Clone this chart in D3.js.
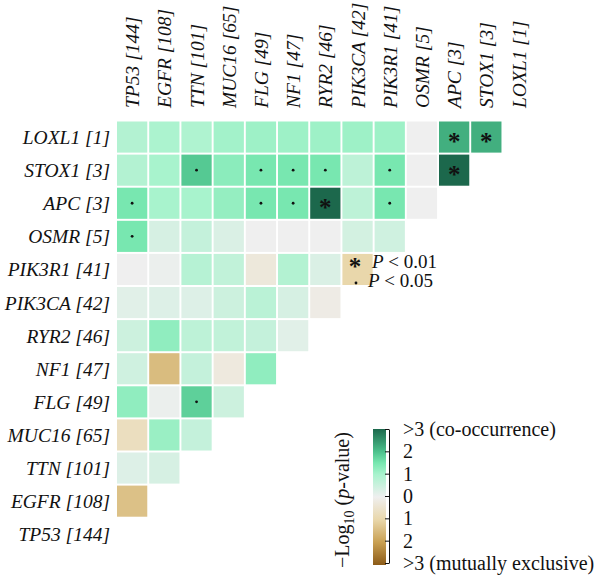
<!DOCTYPE html>
<html>

<head>
  <meta charset="utf8">
  <script src="https://d3js.org/d3.v7.min.js"></script>
  <style>
    body {
      margin: 0;
      background: #fff;
    }

    text {
      font-family: "Liberation Serif", "Times New Roman", serif;
      fill: #111;
    }

    .gene {
      font-style: italic;
      font-size: 19.5px;
    }

    .legend text {
      font-size: 19px;
    }

    .cbar .tick text {
      font-size: 20px;
    }
  </style>
</head>

<body>
  <svg id="chart" width="600" height="576"></svg>

  <script>
    // rows, top to bottom (columns use the reverse order)
    var genes = ['LOXL1', 'STOX1', 'APC', 'OSMR', 'PIK3R1', 'PIK3CA', 'RYR2', 'NF1', 'FLG', 'MUC16', 'TTN', 'EGFR', 'TP53'];
    var counts = [1, 3, 3, 5, 41, 42, 46, 47, 49, 65, 101, 108, 144];

    // signed -log10(p): + co-occurrence, - mutually exclusive
    // each row lists its cells from the TP53 column rightwards
    var values = [
      [0.85, 0.95, 0.9, 1.05, 1.1, 1.1, 1.1, 1.1, 1.1, 0, 2.2, 2.2],
      [0.85, 1.0, 1.9, 1.3, 1.5, 1.5, 1.5, 0.7, 1.5, 0, 3],
      [1.5, 1.0, 1.0, 1.2, 1.5, 1.5, 3, 0.7, 1.5, 0],
      [1.5, 0.35, 0.6, 0.3, 0, 0, 0, 0.4, 0.45],
      [0, 0.05, 0.8, 0.65, -0.3, 0.85, 0.3, -1.0],
      [0.2, 0.25, 0.25, 0.5, 0.75, 0.35, -0.15],
      [0.5, 1.25, 0.7, 0.65, 0.6, 0.2],
      [0.45, -1.5, 0.6, -0.25, 1.25],
      [1.25, 0.05, 1.8, 0.5],
      [-0.7, 1.15, 0.6],
      [0.25, 0.35],
      [-1.4],
      []
    ];

    // '*' p < 0.01, '.' p < 0.05
    var marks = [
      ['', '', '', '', '', '', '', '', '', '', '*', '*'],
      ['', '', '.', '', '.', '.', '.', '', '.', '', '*'],
      ['.', '', '', '', '.', '.', '*', '', '.', ''],
      ['.', '', '', '', '', '', '', '', ''],
      ['', '', '', '', '', '', '', ''],
      ['', '', '', '', '', '', ''],
      ['', '', '', '', '', ''],
      ['', '', '', '', ''],
      ['', '', '.', ''],
      ['', '', ''],
      ['', ''],
      [''],
      []
    ];

    var colorStops = [-3, -2, -1, 0, 1, 1.5, 2, 3];
    var colorRange = ['#8c5b18', '#c9a052', '#e9d7ab', '#efefef', '#a8f3cd', '#78e7b0', '#4cc18c', '#1c684c'];

    var cbarTicks = [3, 2, 1, 0, -1, -2, -3];
    var cbarLabels = ['>3 (co-occurrence)', '2', '1', '0', '1', '2', '>3 (mutually exclusive)'];

    var chart = d3.select('#chart');
    var cols = genes.slice().reverse();
    var colCounts = counts.slice().reverse();

    var x = d3.scaleBand()
      .domain(cols)
      .range([117, 117 + 32.2 * 12.94])
      .paddingInner(0.06);

    var y = d3.scaleBand()
      .domain(genes)
      .range([121.5, 121.5 + 33.1 * 12.94])
      .paddingInner(0.06);

    var color = d3.scaleLinear()
      .domain(colorStops)
      .range(colorRange)
      .clamp(true);

    var cells = [];
    values.forEach(function (row, i) {
      row.forEach(function (v, j) {
        cells.push({ row: genes[i], col: cols[j], value: v, mark: marks[i][j] });
      });
    });

    var grid = chart.append('g');

    grid.selectAll('.cell')
      .data(cells)
      .enter()
      .append('rect')
      .attr('class', 'cell')
      .attr('x', (d) => x(d.col))
      .attr('y', (d) => y(d.row))
      .attr('width', x.bandwidth())
      .attr('height', y.bandwidth())
      .attr('fill', (d) => color(d.value));

    grid.selectAll('.star')
      .data(cells.filter((d) => d.mark === '*'))
      .enter()
      .append('text')
      .attr('class', 'star')
      .attr('x', (d) => x(d.col) + x.bandwidth() / 2)
      .attr('y', (d) => y(d.row) + y.bandwidth() / 2 + 13)
      .attr('text-anchor', 'middle')
      .style('font-size', '25px')
      .style('font-weight', 'bold')
      .text('*');

    grid.selectAll('.dot')
      .data(cells.filter((d) => d.mark === '.'))
      .enter()
      .append('circle')
      .attr('class', 'dot')
      .attr('cx', (d) => x(d.col) + x.bandwidth() / 2)
      .attr('cy', (d) => y(d.row) + y.bandwidth() / 2)
      .attr('r', 1.4)
      .attr('fill', '#111');

    // gene labels
    chart.append('g')
      .selectAll('text')
      .data(cols)
      .enter()
      .append('text')
      .attr('class', 'gene')
      .attr('transform', (d) => 'translate(' + (x(d) + x.bandwidth() / 2 + 7) + ', 108) rotate(-90)')
      .text((d, i) => d + ' [' + colCounts[i] + ']');

    chart.append('g')
      .selectAll('text')
      .data(genes)
      .enter()
      .append('text')
      .attr('class', 'gene')
      .attr('x', 110)
      .attr('y', (d) => y(d) + y.bandwidth() / 2 + 7)
      .attr('text-anchor', 'end')
      .text((d, i) => d + ' [' + counts[i] + ']');

    // significance legend
    var legend = chart.append('g').attr('class', 'legend');
    legend.append('text')
      .attr('x', 355)
      .attr('y', 275)
      .attr('text-anchor', 'middle')
      .style('font-size', '25px')
      .style('font-weight', 'bold')
      .text('*');
    legend.append('circle')
      .attr('cx', 356)
      .attr('cy', 283)
      .attr('r', 1.4)
      .attr('fill', '#111');

    var l1 = legend.append('text').attr('x', 372).attr('y', 268);
    l1.append('tspan').style('font-style', 'italic').text('P');
    l1.append('tspan').text(' < 0.01');
    var l2 = legend.append('text').attr('x', 368).attr('y', 287);
    l2.append('tspan').style('font-style', 'italic').text('P');
    l2.append('tspan').text(' < 0.05');

    // colour bar
    var cy = d3.scaleLinear().domain([-3, 3]).range([563, 429]);

    var grad = chart.append('defs')
      .append('linearGradient')
      .attr('id', 'cbar-grad')
      .attr('x1', 0).attr('y1', 1)
      .attr('x2', 0).attr('y2', 0);

    grad.selectAll('stop')
      .data(colorStops)
      .enter()
      .append('stop')
      .attr('offset', (d) => (d + 3) / 6)
      .attr('stop-color', (d, i) => colorRange[i]);

    chart.append('rect')
      .attr('x', 373)
      .attr('y', cy(3))
      .attr('width', 13)
      .attr('height', cy(-3) - cy(3) + 2)
      .attr('fill', 'url(#cbar-grad)');

    var cbarAxis = chart.append('g')
      .attr('class', 'cbar')
      .attr('transform', 'translate(389, 0)')
      .call(d3.axisRight(cy)
        .tickValues(cbarTicks)
        .tickSizeInner(-4)
        .tickSizeOuter(0)
        .tickPadding(14)
        .tickFormat((d, i) => cbarLabels[i]));

    cbarAxis.select('.domain').attr('stroke', '#111');
    cbarAxis.selectAll('.tick line').attr('stroke', '#111');
    cbarAxis.selectAll('.tick text')
      .attr('fill', '#111')
      .style('font-family', '"Liberation Serif", serif');

    var title = chart.append('text')
      .attr('transform', 'translate(349, 500) rotate(-90)')
      .attr('text-anchor', 'middle')
      .style('font-size', '20px');
    title.append('tspan').text('\u2212Log');
    title.append('tspan').attr('dy', 5).style('font-size', '14px').text('10');
    title.append('tspan').attr('dy', -5).text(' (');
    title.append('tspan').style('font-style', 'italic').text('p');
    title.append('tspan').text('-value)');
  </script>
</body>

</html>
